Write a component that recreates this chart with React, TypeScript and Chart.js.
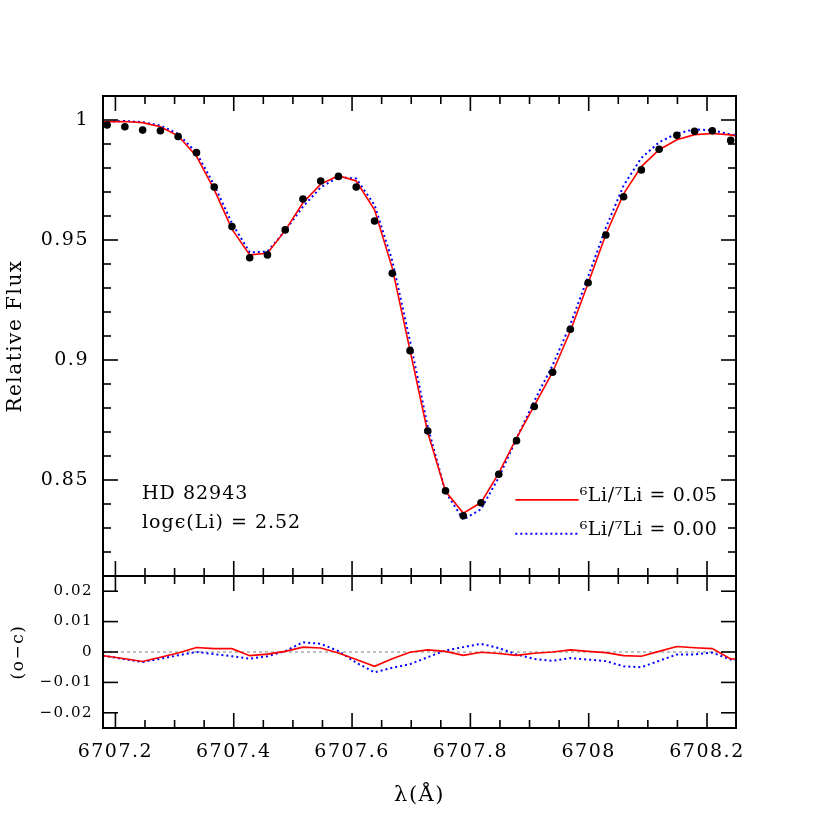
import React, { useEffect, useRef } from "react";
import { Chart, registerables } from "chart.js";

Chart.register(...registerables);

// ---------------- data ----------------
const wavelength = [
  6707.186, 6707.216, 6707.246, 6707.276, 6707.306, 6707.337, 6707.367, 6707.397,
  6707.427, 6707.457, 6707.487, 6707.517, 6707.547, 6707.577, 6707.607, 6707.638,
  6707.668, 6707.698, 6707.728, 6707.758, 6707.788, 6707.818, 6707.848, 6707.878,
  6707.908, 6707.939, 6707.969, 6707.999, 6708.029, 6708.059, 6708.089, 6708.119,
  6708.149, 6708.179, 6708.209, 6708.24,
];

const observedFlux = [
  0.9979, 0.9972, 0.9958, 0.9955, 0.9931, 0.9864, 0.9721, 0.9556,
  0.9426, 0.9438, 0.9542, 0.9671, 0.9746, 0.9765, 0.9721, 0.9579,
  0.9361, 0.9039, 0.8704, 0.8455, 0.8351, 0.8405, 0.8524, 0.8664,
  0.8806, 0.8949, 0.9128, 0.9322, 0.9521, 0.968, 0.9792, 0.9878,
  0.9936, 0.9953, 0.9955, 0.9915,
];

const modelWavelength = [
  6707.179,
  6707.186, 6707.216, 6707.246, 6707.276, 6707.306, 6707.337, 6707.367, 6707.397,
  6707.427, 6707.457, 6707.487, 6707.517, 6707.547, 6707.577, 6707.607, 6707.638,
  6707.668, 6707.698, 6707.728, 6707.758, 6707.788, 6707.818, 6707.848, 6707.878,
  6707.908, 6707.939, 6707.969, 6707.999, 6708.029, 6708.059, 6708.089, 6708.119,
  6708.149, 6708.179, 6708.209, 6708.24,
  6708.249,
];

const modelFlux005 = [
  0.9993,
  0.9993, 0.9994, 0.9989, 0.9972, 0.9934, 0.9849, 0.971, 0.9545,
  0.9438, 0.9445, 0.954, 0.9655, 0.9733, 0.9768, 0.9746, 0.9626,
  0.9383, 0.904, 0.8697, 0.8453, 0.8362, 0.8406, 0.8529, 0.8675,
  0.881, 0.8949, 0.9121, 0.932, 0.9523, 0.9692, 0.9806, 0.9876,
  0.9918, 0.9939, 0.9944, 0.9938,
  0.9934,
];

const modelFlux000 = [
  0.9993,
  0.9993, 0.9996, 0.9991, 0.9977, 0.9942, 0.9864, 0.9728, 0.957,
  0.9448, 0.9452, 0.9539, 0.9639, 0.9719, 0.9762, 0.9756, 0.9646,
  0.9413, 0.9079, 0.8721, 0.845, 0.8335, 0.8378, 0.8511, 0.8672,
  0.8829, 0.8978, 0.9148, 0.9347, 0.9551, 0.9727, 0.9842, 0.9907,
  0.9944, 0.9961, 0.9957, 0.994,
  0.9937,
];

const residual005 = [
  -0.0012,
  -0.0014, -0.0022, -0.0031, -0.0017, -0.0003, 0.0015, 0.0011, 0.0011,
  -0.0012, -0.0007, 0.0002, 0.0016, 0.0013, -0.0003, -0.0025, -0.0047,
  -0.0022, -0.0001, 0.0007, 0.0002, -0.0011, -0.0001, -0.0005, -0.0011,
  -0.0004, 0.0, 0.0007, 0.0002, -0.0002, -0.0012, -0.0014, 0.0002,
  0.0018, 0.0014, 0.0011, -0.0023,
  -0.0023,
];

const residual000 = [
  -0.0012,
  -0.0014, -0.0024, -0.0033, -0.0022, -0.0011, 0.0, -0.0007, -0.0014,
  -0.0022, -0.0014, 0.0003, 0.0032, 0.0027, 0.0003, -0.0035, -0.0067,
  -0.0052, -0.004, -0.0017, 0.0005, 0.0016, 0.0027, 0.0013, -0.0008,
  -0.0023, -0.0029, -0.002, -0.0025, -0.003, -0.0047, -0.005, -0.0029,
  -0.0008, -0.0008, -0.0002, -0.0025,
  -0.0027,
];

const xTickValues = [6707.2, 6707.4, 6707.6, 6707.8, 6708.0, 6708.2];
const xTickLabels = ["6707.2", "6707.4", "6707.6", "6707.8", "6708", "6708.2"];
const fluxTickValues = [0.85, 0.9, 0.95, 1.0];
const fluxTickLabels = ["0.85", "0.9", "0.95", "1"];
const residTickValues = [-0.02, -0.01, 0, 0.01, 0.02];
const residTickLabels = ["\u22120.02", "\u22120.01", "0", "0.01", "0.02"];

const starName = "HD 82943";
const abundanceText = "log\u03f5(Li) = 2.52";
const legendLabels = ["\u2076Li/\u2077Li = 0.05", "\u2076Li/\u2077Li = 0.00"];

const X_MIN = 6707.179;
const X_MAX = 6708.249;
const FLUX_MIN = 0.81;
const FLUX_MAX = 1.01;
const RES_MIN = -0.025;
const RES_MAX = 0.025;

const FONT_FAMILY = "'DejaVu Serif', serif";
const RED = "#ff0000";
const BLUE = "#0000ff";

const decorPlugin = {
  id: "decor",
  beforeLayout(chart: any) {
    chart.ctx.letterSpacing = "1.5px";
  },
  beforeDatasetsDraw(chart: any) {
    const { ctx } = chart;
    const xs = chart.scales.x;
    const rs = chart.scales.y2;
    const y0 = rs.getPixelForValue(0);
    ctx.save();
    ctx.strokeStyle = "#808080";
    ctx.lineWidth = 1;
    ctx.setLineDash([3, 3]);
    ctx.beginPath();
    ctx.moveTo(xs.left, y0);
    ctx.lineTo(xs.right, y0);
    ctx.stroke();
    ctx.restore();
  },
  afterDraw(chart: any) {
    const { ctx } = chart;
    const xs = chart.scales.x;
    const ys = chart.scales.y;
    const rs = chart.scales.y2;
    const L = xs.left;
    const R = xs.right;
    const MAJ = 15;
    const MIN = 8;

    ctx.save();
    ctx.letterSpacing = "0px";
    ctx.strokeStyle = "#000";
    ctx.lineCap = "butt";
    ctx.setLineDash([]);
    ctx.lineWidth = 1.6;

    const line = (x1: number, y1: number, x2: number, y2: number) => {
      ctx.beginPath();
      ctx.moveTo(x1, y1);
      ctx.lineTo(x2, y2);
      ctx.stroke();
    };

    // x ticks on all horizontal edges (inward)
    const edges = [
      { y: ys.top, dir: 1 },
      { y: ys.bottom, dir: -1 },
      { y: rs.top, dir: 1 },
      { y: rs.bottom, dir: -1 },
    ];
    for (let k = -1; k <= 22; k++) {
      const v = 6707.2 + 0.05 * k;
      if (v <= X_MIN || v >= X_MAX) continue;
      const px = xs.getPixelForValue(v);
      const len = k % 4 === 0 ? MAJ : MIN;
      for (const e of edges) line(px, e.y, px, e.y + e.dir * len);
    }

    // flux y ticks
    for (let k = 1; k < 20; k++) {
      const hundredths = 81 + k;
      const v = hundredths / 100;
      const py = ys.getPixelForValue(v);
      const len = hundredths % 5 === 0 ? MAJ : MIN;
      line(L, py, L + len, py);
      line(R, py, R - len, py);
    }

    // residual y ticks
    for (const v of residTickValues) {
      const py = rs.getPixelForValue(v);
      line(L, py, L + MAJ, py);
      line(R, py, R - MAJ, py);
    }

    // frames
    ctx.lineWidth = 2;
    ctx.strokeRect(L, ys.top, R - L, ys.bottom - ys.top);
    ctx.strokeRect(L, rs.top, R - L, rs.bottom - rs.top);

    // annotations
    ctx.fillStyle = "#000";
    ctx.textAlign = "left";
    ctx.textBaseline = "alphabetic";
    ctx.font = `19px ${FONT_FAMILY}`;
    ctx.letterSpacing = "1px";
    const ax = xs.getPixelForValue(6707.245);
    ctx.fillText(starName, ax, ys.getPixelForValue(0.8421));
    ctx.fillText(abundanceText, ax, ys.getPixelForValue(0.83));

    // legend
    const lx1 = xs.getPixelForValue(6707.876);
    const lx2 = xs.getPixelForValue(6707.983);
    const ly1 = ys.getPixelForValue(0.8417);
    const ly2 = ys.getPixelForValue(0.8276);
    ctx.strokeStyle = RED;
    ctx.lineWidth = 1.6;
    line(lx1, ly1, lx2, ly1);
    ctx.strokeStyle = BLUE;
    ctx.lineWidth = 2;
    ctx.setLineDash([2, 3]);
    line(lx1, ly2, lx2, ly2);
    ctx.setLineDash([]);
    ctx.font = `19px ${FONT_FAMILY}`;
    ctx.letterSpacing = "0.6px";
    ctx.fillText(legendLabels[0], lx2 + 1, ly1 + 1);
    ctx.fillText(legendLabels[1], lx2 + 1, ly2 + 1);
    ctx.restore();
  },
};

export default function App() {
  const canvasRef = useRef<HTMLCanvasElement | null>(null);

  useEffect(() => {
    document.body.style.margin = "0";
    const canvas = canvasRef.current;
    if (!canvas) return;

    const obsPoints = wavelength.map((x, i) => ({ x, y: observedFlux[i] }));
    const m005 = modelWavelength.map((x, i) => ({ x, y: modelFlux005[i] }));
    const m000 = modelWavelength.map((x, i) => ({ x, y: modelFlux000[i] }));
    const r005 = modelWavelength.map((x, i) => ({ x, y: residual005[i] }));
    const r000 = modelWavelength.map((x, i) => ({ x, y: residual000[i] }));

    const tickFont = (size: number) => ({ family: FONT_FAMILY, size });

    const chart = new Chart(canvas, {
      type: "scatter",
      data: {
        datasets: [
          {
            label: "observed",
            data: obsPoints,
            yAxisID: "y",
            showLine: false,
            pointRadius: 3.8,
            pointBackgroundColor: "#000",
            pointBorderWidth: 0,
            order: 0,
          },
          {
            label: "6Li/7Li = 0.05",
            data: m005,
            yAxisID: "y",
            showLine: true,
            borderColor: RED,
            borderWidth: 1.6,
            pointRadius: 0,
            order: 1,
          },
          {
            label: "6Li/7Li = 0.00",
            data: m000,
            yAxisID: "y",
            showLine: true,
            borderColor: BLUE,
            borderWidth: 2,
            borderDash: [2, 3],
            pointRadius: 0,
            order: 2,
          },
          {
            label: "o-c 0.05",
            data: r005,
            yAxisID: "y2",
            showLine: true,
            borderColor: RED,
            borderWidth: 1.6,
            pointRadius: 0,
            order: 1,
          },
          {
            label: "o-c 0.00",
            data: r000,
            yAxisID: "y2",
            showLine: true,
            borderColor: BLUE,
            borderWidth: 2,
            borderDash: [2, 3],
            pointRadius: 0,
            order: 2,
          },
        ],
      },
      options: {
        responsive: false,
        animation: false,
        devicePixelRatio: 1,
        events: [],
        layout: { padding: { left: 0, right: 94, top: 96, bottom: 0 } },
        plugins: {
          legend: { display: false },
          tooltip: { enabled: false },
        },
        scales: {
          x: {
            type: "linear",
            position: "bottom",
            min: X_MIN,
            max: X_MAX,
            grid: { display: false, drawTicks: false },
            border: { display: false },
            afterBuildTicks: (scale: any) => {
              scale.ticks = xTickValues.map((v) => ({ value: v }));
            },
            afterFit: (scale: any) => {
              scale.height = 102;
            },
            ticks: {
              autoSkip: false,
              maxRotation: 0,
              padding: 13,
              color: "#000",
              font: tickFont(19),
              callback: (_v: any, i: number) => xTickLabels[i],
            },
            title: {
              display: true,
              text: "\u03bb(\u00c5)",
              color: "#000",
              font: tickFont(21),
              padding: { top: 0, bottom: 22 },
            },
          },
          y: {
            type: "linear",
            position: "left",
            stack: "panels",
            stackWeight: 480,
            weight: 2,
            min: FLUX_MIN,
            max: FLUX_MAX,
            grid: { display: false, drawTicks: false },
            border: { display: false },
            afterBuildTicks: (scale: any) => {
              scale.ticks = fluxTickValues.map((v) => ({ value: v }));
            },
            afterFit: (scale: any) => {
              scale.width = 103;
            },
            ticks: {
              autoSkip: false,
              padding: 14,
              color: "#000",
              font: tickFont(19),
              callback: (_v: any, i: number) => fluxTickLabels[i],
            },
            title: {
              display: true,
              text: "Relative Flux",
              color: "#000",
              font: tickFont(20),
              padding: { top: 4, bottom: 0 },
            },
          },
          y2: {
            type: "linear",
            position: "left",
            stack: "panels",
            stackWeight: 152,
            weight: 1,
            min: RES_MIN,
            max: RES_MAX,
            grid: { display: false, drawTicks: false },
            border: { display: false },
            afterBuildTicks: (scale: any) => {
              scale.ticks = residTickValues.map((v) => ({ value: v }));
            },
            afterFit: (scale: any) => {
              scale.width = 103;
            },
            ticks: {
              autoSkip: false,
              padding: 10,
              color: "#000",
              font: tickFont(15),
              callback: (_v: any, i: number) => residTickLabels[i],
            },
            title: {
              display: true,
              text: "(o\u2212c)",
              color: "#000",
              font: tickFont(17),
              padding: { top: 8, bottom: 0 },
            },
          },
        },
      } as any,
      plugins: [decorPlugin as any],
    });

    return () => {
      chart.destroy();
    };
  }, []);

  return (
    <canvas
      ref={canvasRef}
      width={830}
      height={830}
      style={{ display: "block", width: 830, height: 830 }}
    />
  );
}
